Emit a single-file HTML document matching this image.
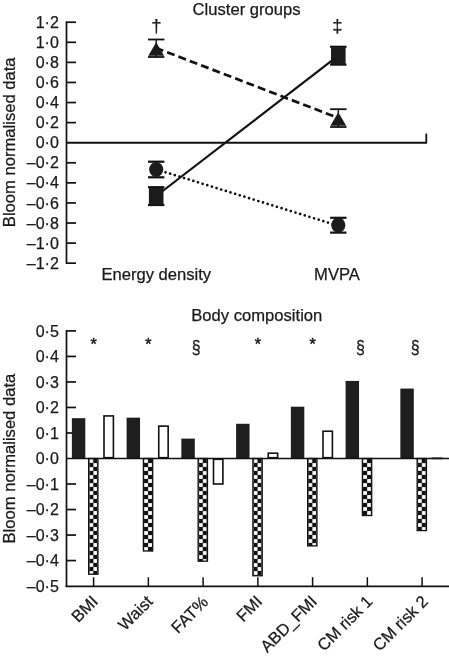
<!DOCTYPE html>
<html><head><meta charset="utf-8"><style>
html,body{margin:0;padding:0;background:#fff;}
svg{display:block;}
.t{font-family:"Liberation Sans", Arial, Helvetica, sans-serif;font-size:16px;fill:#1a1a1a;stroke:#1a1a1a;stroke-width:0.25px;}
.L{font-family:"Liberation Sans", Arial, Helvetica, sans-serif;font-size:16.6px;fill:#1a1a1a;stroke:#1a1a1a;stroke-width:0.25px;}
</style></head><body>
<svg width="449" height="656" viewBox="0 0 449 656">
<defs><pattern id="ck0" x="89.30" y="459.00" width="8.0" height="8.0" patternUnits="userSpaceOnUse"><rect width="8.0" height="8.0" fill="#111"/><rect x="0.1" y="0.1" width="3.8" height="3.8" fill="#fff"/><rect x="4.1" y="4.1" width="3.8" height="3.8" fill="#fff"/></pattern><pattern id="ck1" x="144.05" y="459.00" width="8.0" height="8.0" patternUnits="userSpaceOnUse"><rect width="8.0" height="8.0" fill="#111"/><rect x="0.1" y="0.1" width="3.8" height="3.8" fill="#fff"/><rect x="4.1" y="4.1" width="3.8" height="3.8" fill="#fff"/></pattern><pattern id="ck2" x="198.80" y="459.00" width="8.0" height="8.0" patternUnits="userSpaceOnUse"><rect width="8.0" height="8.0" fill="#111"/><rect x="0.1" y="0.1" width="3.8" height="3.8" fill="#fff"/><rect x="4.1" y="4.1" width="3.8" height="3.8" fill="#fff"/></pattern><pattern id="ck3" x="253.55" y="459.00" width="8.0" height="8.0" patternUnits="userSpaceOnUse"><rect width="8.0" height="8.0" fill="#111"/><rect x="0.1" y="0.1" width="3.8" height="3.8" fill="#fff"/><rect x="4.1" y="4.1" width="3.8" height="3.8" fill="#fff"/></pattern><pattern id="ck4" x="308.30" y="459.00" width="8.0" height="8.0" patternUnits="userSpaceOnUse"><rect width="8.0" height="8.0" fill="#111"/><rect x="0.1" y="0.1" width="3.8" height="3.8" fill="#fff"/><rect x="4.1" y="4.1" width="3.8" height="3.8" fill="#fff"/></pattern><pattern id="ck5" x="363.05" y="459.00" width="8.0" height="8.0" patternUnits="userSpaceOnUse"><rect width="8.0" height="8.0" fill="#111"/><rect x="0.1" y="0.1" width="3.8" height="3.8" fill="#fff"/><rect x="4.1" y="4.1" width="3.8" height="3.8" fill="#fff"/></pattern><pattern id="ck6" x="417.80" y="459.00" width="8.0" height="8.0" patternUnits="userSpaceOnUse"><rect width="8.0" height="8.0" fill="#111"/><rect x="0.1" y="0.1" width="3.8" height="3.8" fill="#fff"/><rect x="4.1" y="4.1" width="3.8" height="3.8" fill="#fff"/></pattern></defs>
<rect width="449" height="656" fill="#fff"/>
<line x1="66.5" y1="21.37" x2="66.5" y2="264.03" stroke="#111" stroke-width="1.7"/>
<line x1="66.5" y1="263.18" x2="76.0" y2="263.18" stroke="#111" stroke-width="1.7"/>
<text x="58.8" y="268.78" text-anchor="end" class="t">–1·2</text>
<line x1="66.5" y1="243.10" x2="76.0" y2="243.10" stroke="#111" stroke-width="1.7"/>
<text x="58.8" y="248.70" text-anchor="end" class="t">–1·0</text>
<line x1="66.5" y1="223.02" x2="76.0" y2="223.02" stroke="#111" stroke-width="1.7"/>
<text x="58.8" y="228.62" text-anchor="end" class="t">–0·8</text>
<line x1="66.5" y1="202.94" x2="76.0" y2="202.94" stroke="#111" stroke-width="1.7"/>
<text x="58.8" y="208.54" text-anchor="end" class="t">–0·6</text>
<line x1="66.5" y1="182.86" x2="76.0" y2="182.86" stroke="#111" stroke-width="1.7"/>
<text x="58.8" y="188.46" text-anchor="end" class="t">–0·4</text>
<line x1="66.5" y1="162.78" x2="76.0" y2="162.78" stroke="#111" stroke-width="1.7"/>
<text x="58.8" y="168.38" text-anchor="end" class="t">–0·2</text>
<text x="58.8" y="148.30" text-anchor="end" class="t">0·0</text>
<line x1="66.5" y1="122.62" x2="76.0" y2="122.62" stroke="#111" stroke-width="1.7"/>
<text x="58.8" y="128.22" text-anchor="end" class="t">0·2</text>
<line x1="66.5" y1="102.54" x2="76.0" y2="102.54" stroke="#111" stroke-width="1.7"/>
<text x="58.8" y="108.14" text-anchor="end" class="t">0·4</text>
<line x1="66.5" y1="82.46" x2="76.0" y2="82.46" stroke="#111" stroke-width="1.7"/>
<text x="58.8" y="88.06" text-anchor="end" class="t">0·6</text>
<line x1="66.5" y1="62.38" x2="76.0" y2="62.38" stroke="#111" stroke-width="1.7"/>
<text x="58.8" y="67.98" text-anchor="end" class="t">0·8</text>
<line x1="66.5" y1="42.30" x2="76.0" y2="42.30" stroke="#111" stroke-width="1.7"/>
<text x="58.8" y="47.90" text-anchor="end" class="t">1·0</text>
<line x1="66.5" y1="22.22" x2="76.0" y2="22.22" stroke="#111" stroke-width="1.7"/>
<text x="58.8" y="27.82" text-anchor="end" class="t">1·2</text>
<line x1="66.5" y1="142.8" x2="426.3" y2="142.8" stroke="#111" stroke-width="1.9"/>
<line x1="426.3" y1="133.6" x2="426.3" y2="143.6" stroke="#111" stroke-width="1.8"/>
<text x="192.6" y="14.5" class="L">Cluster groups</text>
<text x="101.4" y="280" class="L">Energy density</text>
<text x="314.1" y="280" class="L">MVPA</text>
<text transform="translate(14.6,142.3) rotate(-90)" text-anchor="middle" class="L">Bloom normalised data</text>
<line x1="156.2" y1="48" x2="338.3" y2="118" stroke="#111" stroke-width="2.7" stroke-dasharray="8 4.15" stroke-dashoffset="0.5"/>
<line x1="156.2" y1="196" x2="338.3" y2="55.6" stroke="#111" stroke-width="2.2"/>
<line x1="156.2" y1="169.4" x2="338.3" y2="225.8" stroke="#111" stroke-width="2.7" stroke-dasharray="0 4.86" stroke-linecap="round"/>
<line x1="156.2" y1="39.5" x2="156.2" y2="57.0" stroke="#111" stroke-width="1.4"/>
<line x1="148.0" y1="39.5" x2="164.39999999999998" y2="39.5" stroke="#111" stroke-width="1.8"/>
<line x1="148.0" y1="57.0" x2="164.39999999999998" y2="57.0" stroke="#111" stroke-width="1.8"/>
<polygon points="156.2,42.3 148.29999999999998,55.85 164.1,55.85" fill="#1a1a1a"/>
<line x1="338.3" y1="109.2" x2="338.3" y2="127.0" stroke="#111" stroke-width="1.4"/>
<line x1="330.1" y1="109.2" x2="346.5" y2="109.2" stroke="#111" stroke-width="1.8"/>
<line x1="330.1" y1="127.0" x2="346.5" y2="127.0" stroke="#111" stroke-width="1.8"/>
<polygon points="338.3,112.3 330.40000000000003,125.85 346.2,125.85" fill="#1a1a1a"/>
<line x1="338.3" y1="46.8" x2="338.3" y2="64.6" stroke="#111" stroke-width="1.4"/>
<line x1="330.1" y1="46.8" x2="346.5" y2="46.8" stroke="#111" stroke-width="2.2"/>
<line x1="330.1" y1="64.6" x2="346.5" y2="64.6" stroke="#111" stroke-width="2.2"/>
<rect x="331.0" y="47.400000000000006" width="14.6" height="16.6" fill="#1c1c1c"/>
<line x1="156.2" y1="187.2" x2="156.2" y2="205.0" stroke="#111" stroke-width="1.4"/>
<line x1="148.0" y1="187.2" x2="164.39999999999998" y2="187.2" stroke="#111" stroke-width="2.2"/>
<line x1="148.0" y1="205.0" x2="164.39999999999998" y2="205.0" stroke="#111" stroke-width="2.2"/>
<rect x="148.89999999999998" y="187.79999999999998" width="14.6" height="16.6" fill="#1c1c1c"/>
<line x1="156.2" y1="161.7" x2="156.2" y2="177.3" stroke="#111" stroke-width="1.4"/>
<line x1="148.0" y1="161.7" x2="164.39999999999998" y2="161.7" stroke="#111" stroke-width="2.2"/>
<line x1="148.0" y1="177.3" x2="164.39999999999998" y2="177.3" stroke="#111" stroke-width="2.2"/>
<ellipse cx="156.2" cy="169.5" rx="7.05" ry="7.6" fill="#1c1c1c"/>
<line x1="338.3" y1="217.8" x2="338.3" y2="232.6" stroke="#111" stroke-width="1.4"/>
<line x1="330.1" y1="217.8" x2="346.5" y2="217.8" stroke="#111" stroke-width="2.2"/>
<line x1="330.1" y1="232.6" x2="346.5" y2="232.6" stroke="#111" stroke-width="2.2"/>
<ellipse cx="338.3" cy="225.2" rx="7.05" ry="7.6" fill="#1c1c1c"/>
<text x="156.3" y="31.8" text-anchor="middle" class="t" style="font-size:18.5px">†</text>
<text x="337.4" y="31.8" text-anchor="middle" class="t" style="font-size:18.5px">‡</text>
<line x1="66.5" y1="330.05" x2="66.5" y2="587.00" stroke="#111" stroke-width="1.7"/>
<text x="58.8" y="591.70" text-anchor="end" class="t">–0·5</text>
<line x1="66.5" y1="560.58" x2="76.0" y2="560.58" stroke="#111" stroke-width="1.7"/>
<text x="58.8" y="566.18" text-anchor="end" class="t">–0·4</text>
<line x1="66.5" y1="535.06" x2="76.0" y2="535.06" stroke="#111" stroke-width="1.7"/>
<text x="58.8" y="540.66" text-anchor="end" class="t">–0·3</text>
<line x1="66.5" y1="509.54" x2="76.0" y2="509.54" stroke="#111" stroke-width="1.7"/>
<text x="58.8" y="515.14" text-anchor="end" class="t">–0·2</text>
<line x1="66.5" y1="484.02" x2="76.0" y2="484.02" stroke="#111" stroke-width="1.7"/>
<text x="58.8" y="489.62" text-anchor="end" class="t">–0·1</text>
<text x="58.8" y="464.10" text-anchor="end" class="t">0·0</text>
<line x1="66.5" y1="432.98" x2="76.0" y2="432.98" stroke="#111" stroke-width="1.7"/>
<text x="58.8" y="438.58" text-anchor="end" class="t">0·1</text>
<line x1="66.5" y1="407.46" x2="76.0" y2="407.46" stroke="#111" stroke-width="1.7"/>
<text x="58.8" y="413.06" text-anchor="end" class="t">0·2</text>
<line x1="66.5" y1="381.94" x2="76.0" y2="381.94" stroke="#111" stroke-width="1.7"/>
<text x="58.8" y="387.54" text-anchor="end" class="t">0·3</text>
<line x1="66.5" y1="356.42" x2="76.0" y2="356.42" stroke="#111" stroke-width="1.7"/>
<text x="58.8" y="362.02" text-anchor="end" class="t">0·4</text>
<line x1="66.5" y1="330.90" x2="76.0" y2="330.90" stroke="#111" stroke-width="1.7"/>
<text x="58.8" y="336.50" text-anchor="end" class="t">0·5</text>
<text x="191.3" y="321" class="L">Body composition</text>
<text transform="translate(14.6,458.6) rotate(-90)" text-anchor="middle" class="L">Bloom normalised data</text>
<rect x="71.85" y="418.18" width="13.45" height="40.32" fill="#1e1e1e"/>
<rect x="88.65" y="458.50" width="9.3" height="115.72" fill="url(#ck0)" stroke="#111" stroke-width="1.3"/>
<rect x="104.00" y="415.92" width="9.4" height="41.78" fill="#fff" stroke="#111" stroke-width="1.6"/>
<text x="93.70" y="350.2" text-anchor="middle" class="t" style="stroke-width:0.5px">*</text>
<line x1="93.60" y1="577.2" x2="93.60" y2="586.4" stroke="#111" stroke-width="1.5"/>
<text transform="translate(99.10,602.50) rotate(-45)" text-anchor="end" class="L">BMI</text>
<rect x="126.60" y="417.67" width="13.45" height="40.83" fill="#1e1e1e"/>
<rect x="143.40" y="458.50" width="9.3" height="92.50" fill="url(#ck1)" stroke="#111" stroke-width="1.3"/>
<rect x="158.75" y="426.12" width="9.4" height="31.58" fill="#fff" stroke="#111" stroke-width="1.6"/>
<text x="148.45" y="350.2" text-anchor="middle" class="t" style="stroke-width:0.5px">*</text>
<line x1="148.35" y1="577.2" x2="148.35" y2="586.4" stroke="#111" stroke-width="1.5"/>
<text transform="translate(153.85,602.50) rotate(-45)" text-anchor="end" class="L">Waist</text>
<rect x="181.35" y="438.59" width="13.45" height="19.91" fill="#1e1e1e"/>
<rect x="198.15" y="458.50" width="9.3" height="102.71" fill="url(#ck2)" stroke="#111" stroke-width="1.3"/>
<rect x="213.50" y="459.30" width="9.4" height="24.69" fill="#fff" stroke="#111" stroke-width="1.6"/>
<text transform="translate(196.30,353.1) scale(1,1.18)" text-anchor="middle" class="t">§</text>
<line x1="203.10" y1="577.2" x2="203.10" y2="586.4" stroke="#111" stroke-width="1.5"/>
<text transform="translate(209.20,603.10) rotate(-45)" text-anchor="end" class="L">FAT%</text>
<rect x="236.10" y="423.79" width="13.45" height="34.71" fill="#1e1e1e"/>
<rect x="252.90" y="458.50" width="9.3" height="117.25" fill="url(#ck3)" stroke="#111" stroke-width="1.3"/>
<rect x="268.25" y="453.18" width="9.4" height="4.52" fill="#fff" stroke="#111" stroke-width="1.6"/>
<text x="257.95" y="350.2" text-anchor="middle" class="t" style="stroke-width:0.5px">*</text>
<line x1="257.85" y1="577.2" x2="257.85" y2="586.4" stroke="#111" stroke-width="1.5"/>
<text transform="translate(263.35,602.50) rotate(-45)" text-anchor="end" class="L">FMI</text>
<rect x="290.85" y="406.69" width="13.45" height="51.81" fill="#1e1e1e"/>
<rect x="307.65" y="458.50" width="9.3" height="87.39" fill="url(#ck4)" stroke="#111" stroke-width="1.3"/>
<rect x="323.00" y="431.23" width="9.4" height="26.47" fill="#fff" stroke="#111" stroke-width="1.6"/>
<text x="312.70" y="350.2" text-anchor="middle" class="t" style="stroke-width:0.5px">*</text>
<line x1="312.60" y1="577.2" x2="312.60" y2="586.4" stroke="#111" stroke-width="1.5"/>
<text transform="translate(318.10,602.50) rotate(-45)" text-anchor="end" class="L">ABD_FMI</text>
<rect x="345.60" y="380.92" width="13.45" height="77.58" fill="#1e1e1e"/>
<rect x="362.40" y="458.50" width="9.3" height="57.03" fill="url(#ck5)" stroke="#111" stroke-width="1.3"/>
<text transform="translate(360.55,353.1) scale(1,1.18)" text-anchor="middle" class="t">§</text>
<line x1="367.35" y1="577.2" x2="367.35" y2="586.4" stroke="#111" stroke-width="1.5"/>
<text transform="translate(373.45,602.50) rotate(-45)" text-anchor="end" class="L">CM risk 1</text>
<rect x="400.35" y="388.58" width="13.45" height="69.92" fill="#1e1e1e"/>
<rect x="417.15" y="458.50" width="9.3" height="72.08" fill="url(#ck6)" stroke="#111" stroke-width="1.3"/>
<rect x="432.50" y="458.28" width="9.4" height="0.10" fill="#fff" stroke="#111" stroke-width="1.6"/>
<text transform="translate(415.30,353.1) scale(1,1.18)" text-anchor="middle" class="t">§</text>
<line x1="422.10" y1="577.2" x2="422.10" y2="586.4" stroke="#111" stroke-width="1.5"/>
<text transform="translate(429.00,602.50) rotate(-45)" text-anchor="end" class="L">CM risk 2</text>
<line x1="66.5" y1="458.5" x2="449" y2="458.5" stroke="#111" stroke-width="1.6"/>
<line x1="65.65" y1="586.4" x2="449" y2="586.4" stroke="#111" stroke-width="1.9"/>
</svg>
</body></html>
